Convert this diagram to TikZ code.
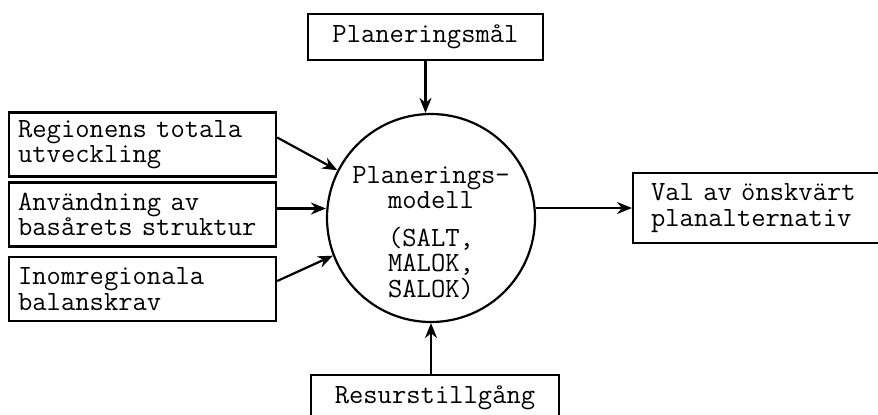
\documentclass[tikz,border=0pt]{standalone}
\usepackage{fontspec}
\usetikzlibrary{arrows.meta}
\newcommand{\typefont}{\ttfamily\fontsize{13.9}{12.8}\selectfont\spaceskip=7.3pt\relax}

\begin{document}
\begin{tikzpicture}[x=0.5pt, y=-0.5pt, line width=1.1pt,
        every node/.style={font=\typefont},
        inbox/.style={draw, anchor=west, align=left, text width=124.5pt,
            inner xsep=4.5pt, inner ysep=0pt, minimum height=32pt},
        arr/.style={-{Stealth[length=7.5pt, width=6pt]}}]
            \clip (0,0) rectangle (878,414);

            % Draw the model circle
            \node[draw, circle, minimum size=104pt, inner sep=0pt] (model) at (431,218) {};
            \node[align=center, inner sep=0pt] (modeltxt) at (431,233)
                {Planerings-\\modell\\[6pt](SALT,\\MALOK,\\SALOK)};

            % Draw the input boxes on the left
            \node[inbox] (region) at (8,144.5) {Regionens totala\\utveckling};
            \node[inbox] (struct) at (8,214.5) {Användning av\\basårets struktur};
            \node[inbox] (balance) at (8,289) {Inomregionala\\balanskrav};

            % Draw the goal and resource boxes
            \node[draw, minimum width=117.5pt, minimum height=23pt, inner sep=0pt] (goal) at (425.5,37) {Planeringsmål};
            \node[draw, anchor=north, minimum width=124pt, minimum height=23pt, inner sep=0pt] (resource) at (435,374) {Resurstillgång};

            % Draw the output box
            \node[draw, anchor=west, align=left, text width=112pt, inner xsep=9pt,
                inner ysep=0pt, minimum height=35pt] (choice) at (632,208) {Val av önskvärt\\planalternativ};

            % Draw the arrows
            \draw[arr] ([yshift=3.5pt]region.east) -- (model.153);
            \draw[arr] ([yshift=3pt]struct.east) -- ([yshift=3pt]struct.east -| model.west);
            \draw[arr] ([yshift=4pt]balance.east) -- (model.201);
            \draw[arr] (goal.south) -- (goal.south |- model.north);
            \draw[arr] (resource.north -| model.south) -- (model.south);
            \draw[arr] (choice.west -| model.east) -- (choice.west);

        \end{tikzpicture}
\end{document}
